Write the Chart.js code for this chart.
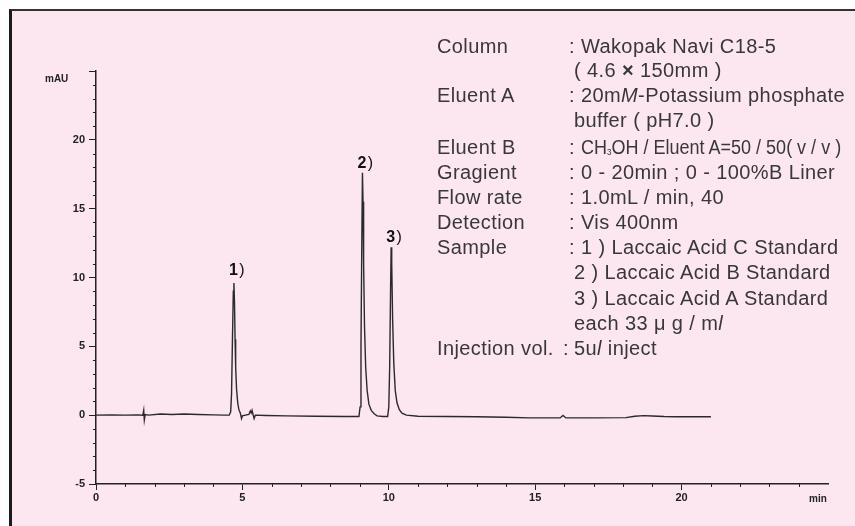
<!DOCTYPE html>
<html><head><meta charset="utf-8">
<script src="https://cdn.jsdelivr.net/npm/chart.js@4.4.0/dist/chart.umd.min.js"></script>
<style>
html,body{margin:0;padding:0;width:855px;height:526px;overflow:hidden;background:#fff;}
#frame{position:absolute;left:9px;top:9px;width:900px;height:600px;background:#fce6f0;border-left:3px solid #1a1a1a;border-top:2px solid #333;}
#c{position:absolute;left:0;top:0;}
#info{position:absolute;left:437px;top:34px;width:420px;height:330px;font-family:"Liberation Sans",Arial,sans-serif;font-size:20px;letter-spacing:0.4px;color:#383838;}
.row{position:absolute;left:0;height:25px;line-height:25px;white-space:nowrap;}
.lab{position:absolute;left:0;top:0;}
.val{position:absolute;left:132px;top:0;}
.col{position:absolute;left:126px;top:0;}
.cont{position:absolute;left:137px;top:0;}
.narrow{display:inline-block;transform:scaleX(0.9);transform-origin:0 50%;letter-spacing:0;}
sub{font-size:9px;vertical-align:baseline;position:relative;top:1px;}
</style></head><body>
<div id="frame"></div>
<canvas id="c" width="855" height="526"></canvas>
<div id="info">
 <div class="row" style="top:0px"><span class="lab">Column</span><span class="val">: Wakopak Navi C18-5</span></div>
 <div class="row" style="top:23.5px"><span class="cont">( 4.6 <b>×</b> 150mm )</span></div>
 <div class="row" style="top:48.5px"><span class="lab">Eluent A</span><span class="val">: 20m<i>M</i>-Potassium phosphate</span></div>
 <div class="row" style="top:73.5px"><span class="cont">buffer ( pH7.0 )</span></div>
 <div class="row" style="top:100.5px"><span class="lab">Eluent B</span><span class="val">: <span class="narrow">CH<sub>3</sub>OH / Eluent A=50 / 50( v / v )</span></span></div>
 <div class="row" style="top:125.5px"><span class="lab">Gragient</span><span class="val">: 0 - 20min ; 0 - 100%B Liner</span></div>
 <div class="row" style="top:150.5px"><span class="lab">Flow rate</span><span class="val">: 1.0mL / min, 40</span></div>
 <div class="row" style="top:175.5px"><span class="lab">Detection</span><span class="val">: Vis 400nm</span></div>
 <div class="row" style="top:200.5px"><span class="lab">Sample</span><span class="val">: 1 ) Laccaic Acid C Standard</span></div>
 <div class="row" style="top:226px"><span class="cont">2 ) Laccaic Acid B Standard</span></div>
 <div class="row" style="top:252px"><span class="cont">3 ) Laccaic Acid A Standard</span></div>
 <div class="row" style="top:277px"><span class="cont">each 33 μ g / m<i>l</i></span></div>
 <div class="row" style="top:302px"><span class="lab">Injection vol.</span><span class="col">:</span><span class="cont">5u<i>l</i> inject</span></div>
</div>
<script>
// Retention time (min) and detector signal (mAU)
const timeMin = [0.00,0.50,1.00,1.40,1.60,1.63,1.65,1.68,1.80,2.20,2.60,3.00,3.50,4.00,4.40,4.55,4.60,4.63,4.66,4.69,4.71,4.73,4.75,4.77,4.80,4.84,4.88,4.93,4.97,5.00,5.10,5.22,5.27,5.30,5.33,5.37,5.40,5.44,5.80,6.50,7.50,8.50,8.98,9.02,9.05,9.08,9.10,9.12,9.14,9.17,9.21,9.26,9.32,9.40,9.50,9.60,9.80,9.96,10.00,10.03,10.06,10.08,10.10,10.13,10.17,10.22,10.28,10.36,10.45,10.60,11.00,12.00,13.00,14.00,14.80,15.50,15.85,15.95,16.05,17.00,18.10,18.40,18.70,19.00,19.40,19.80,20.30,21.00];
const signalMAU = [0.00,0.02,0.00,0.02,0.00,0.35,-0.35,0.05,0.00,0.08,0.05,0.08,0.05,0.02,0.00,0.00,0.25,1.6,5.5,9.0,9.6,8.2,5.5,3.5,1.9,0.9,0.4,0.15,-0.25,-0.05,0.00,0.05,0.30,0.15,0.35,0.0,-0.25,0.00,-0.02,-0.05,-0.08,-0.10,-0.10,0.6,5.0,13.0,17.6,15.5,11.0,6.5,3.5,1.8,0.8,0.35,0.1,-0.05,-0.1,-0.1,0.6,3.5,9.0,12.2,11.0,7.0,3.8,1.8,0.9,0.4,0.15,0.0,-0.08,-0.1,-0.12,-0.15,-0.2,-0.2,-0.2,-0.02,-0.2,-0.2,-0.18,-0.08,-0.03,-0.06,-0.1,-0.12,-0.12,-0.12];
const peakNames = ['1', '2', '3'];
const peakTimes = [4.71, 9.10, 10.08];
const xTickValues = [0, 5, 10, 15, 20];
const yTickValues = [-5, 0, 5, 10, 15, 20];
const xUnit = 'min';
const yUnit = 'mAU';

const FONT = '"Liberation Sans", Arial, sans-serif';
const INK = '#222';

const extras = {
  id: 'extras',
  afterDraw(chart) {
    const {ctx, scales: {x, y}, chartArea: a} = chart;
    ctx.save();
    ctx.strokeStyle = INK; ctx.lineWidth = 1;
    ctx.beginPath();
    for (let v = Math.ceil(y.min); v <= y.max; v++) {
      if (v % 5 === 0) continue;
      const py = Math.round(y.getPixelForValue(v)) + 0.5;
      ctx.moveTo(a.left - 3, py); ctx.lineTo(a.left, py);
    }
    for (let v = Math.ceil(x.min); v < x.max; v++) {
      if (v % 5 === 0) continue;
      const px = Math.round(x.getPixelForValue(v)) + 0.5;
      ctx.moveTo(px, a.bottom); ctx.lineTo(px, a.bottom + 3);
    }
    ctx.stroke();
    // peak labels
    ctx.fillStyle = '#111';
    ctx.textBaseline = 'alphabetic';
    peakNames.forEach((name, i) => {
      let top = -Infinity;
      timeMin.forEach((t, j) => { if (Math.abs(t - peakTimes[i]) < 0.15) top = Math.max(top, signalMAU[j]); });
      const px = x.getPixelForValue(peakTimes[i]) - 5;
      const py = y.getPixelForValue(top) - (i === 0 ? 8 : 5);
      ctx.font = 'bold 16px ' + FONT;
      ctx.textAlign = 'left';
      ctx.fillText(name, px, py);
      const w = ctx.measureText(name).width;
      ctx.font = '16px ' + FONT;
      ctx.fillText(')', px + w + 1.5, py);
    });
    // axis units
    ctx.fillStyle = INK;
    ctx.font = 'bold 10px ' + FONT;
    ctx.textAlign = 'left'; ctx.textBaseline = 'middle';
    ctx.fillText(yUnit, 45, y.getPixelForValue(y.max) + 8);
    ctx.textAlign = 'center';
    ctx.fillText(xUnit, x.getPixelForValue(x.max) - 10, a.bottom + 15);
    ctx.restore();
  }
};

new Chart(document.getElementById('c'), {
  type: 'scatter',
  data: {
    datasets: [{
      data: timeMin.map((t, i) => ({x: t, y: signalMAU[i]})),
      showLine: true,
      borderColor: '#2a2a2a',
      borderWidth: 1.4,
      pointRadius: 0,
      tension: 0,
      fill: false
    }]
  },
  options: {
    responsive: false,
    animation: false,
    layout: {padding: {left: 0, top: 71, right: 27, bottom: 0}},
    plugins: {legend: {display: false}, tooltip: {enabled: false}},
    scales: {
      x: {
        type: 'linear', min: 0, max: 25,
        afterFit(s) { s.height = 42; },
        afterBuildTicks(s) { s.ticks = xTickValues.map(v => ({value: v})); },
        ticks: {color: INK, font: {family: FONT, size: 11, weight: 'bold'}, padding: 1, maxRotation: 0, autoSkip: false},
        grid: {display: true, drawOnChartArea: false, drawTicks: true, tickLength: 6, color: INK, lineWidth: 1},
        border: {display: true, color: INK, width: 1.5}
      },
      y: {
        min: -5, max: 25,
        afterFit(s) { s.width = 96; },
        afterBuildTicks(s) { s.ticks = yTickValues.concat([25]).map(v => ({value: v})); },
        ticks: {color: INK, font: {family: FONT, size: 11, weight: 'bold'}, padding: 4,
                callback: v => (v === 25 ? '' : v)},
        grid: {display: true, drawOnChartArea: false, drawTicks: true, tickLength: 7, color: INK, lineWidth: 1},
        border: {display: true, color: INK, width: 1.5}
      }
    }
  },
  plugins: [extras]
});
</script>
</body></html>
